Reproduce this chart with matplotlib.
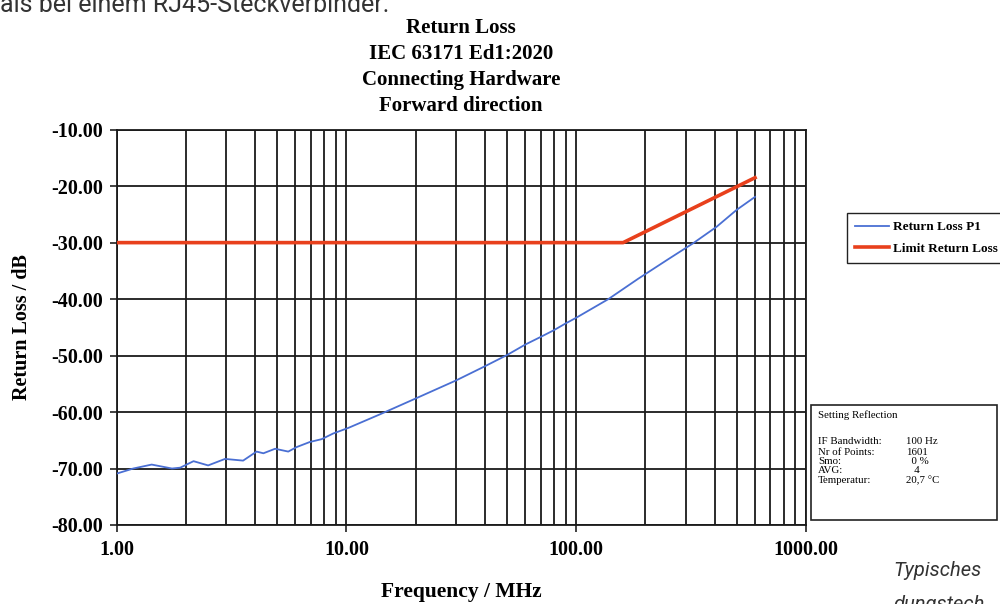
import matplotlib
matplotlib.use('Agg')
import matplotlib.pyplot as plt
from matplotlib.ticker import FixedLocator, FormatStrFormatter, NullFormatter
from matplotlib.patches import Rectangle

# measured return loss, port 1
freq_mhz = [1.0, 1.18, 1.42, 1.74, 1.89, 2.16, 2.5, 2.96, 3.55, 4.06, 4.35, 4.89,
            5.58, 6.07, 6.93, 7.8, 8.75, 10.2, 14.0, 20.0, 30.0, 40.0, 50.0, 60.0,
            70.0, 80.0, 90.0, 100.0, 138.0, 186.0, 250.0, 323.0, 408.0, 499.0, 600.0]
rl_p1 = [-70.9, -70.0, -69.3, -70.0, -69.85, -68.7, -69.45, -68.3, -68.6, -67.0, -67.3, -66.5,
         -67.0, -66.2, -65.3, -64.8, -63.8, -62.8, -60.4, -57.6, -54.4, -51.9, -49.9, -48.05,
         -46.7, -45.5, -44.3, -43.3, -40.0, -36.4, -33.0, -30.1, -27.2, -24.2, -21.9]

# IEC 63171 limit line
limit_freq = [1.0, 160.0, 600.0]
limit_rl = [-30.0, -30.0, -18.5]

y_ticks = [-10, -20, -30, -40, -50, -60, -70, -80]
x_ticks = [1, 10, 100, 1000]

title_lines = ['Return Loss', 'IEC 63171 Ed1:2020', 'Connecting Hardware', 'Forward direction']

settings_labels = ['IF Bandwidth:', 'Nr of Points:', 'Smo:', 'AVG:', 'Temperatur:']
settings_values = ['100 Hz', '1601', '  0 %', '   4', '20,7 \u00b0C']

serif = ['Liberation Serif', 'DejaVu Serif']
grid_col = '#1a1a1a'

fig = plt.figure(figsize=(10, 6.04), dpi=100)
ax = fig.add_axes([0.1167, 0.1308, 0.6893, 0.6545])

ax.plot(freq_mhz, rl_p1, color='#4a6fd3', lw=1.3, label='Return Loss P1', zorder=3)
ax.plot(limit_freq, limit_rl, color='#e8401c', lw=2.6, label='Limit Return Loss', zorder=3)

ax.set_xscale('log')
ax.set_xlim(1, 1000)
ax.set_ylim(-80, -10)
ax.xaxis.set_major_locator(FixedLocator(x_ticks))
ax.xaxis.set_major_formatter(FormatStrFormatter('%.2f'))
ax.xaxis.set_minor_formatter(NullFormatter())
ax.yaxis.set_major_locator(FixedLocator(y_ticks))
ax.yaxis.set_major_formatter(FormatStrFormatter('%.2f'))

ax.grid(True, which='major', color=grid_col, lw=1.3)
ax.grid(True, which='minor', axis='x', color=grid_col, lw=1.3)
ax.tick_params(which='major', direction='out', length=5, width=1.3, color='#333333')
ax.tick_params(axis='y', pad=5)
ax.tick_params(axis='x', pad=6)
ax.tick_params(which='minor', length=0)
for side in ax.spines.values():
    side.set_color(grid_col)
    side.set_linewidth(1.3)

for lab in ax.get_xticklabels() + ax.get_yticklabels():
    lab.set_family(serif)
    lab.set_fontweight('bold')
    lab.set_fontsize(14.5)

ax.set_ylabel('Return Loss / dB', family=serif, fontweight='bold', fontsize=14.5, va='center')
ax.yaxis.set_label_coords(-0.138, 0.5)
ax.set_xlabel('Frequency / MHz', family=serif, fontweight='bold', fontsize=15.5, va='center')
ax.xaxis.set_label_coords(0.5, -0.17)

title_y = [0.953, 0.910, 0.867, 0.825]
for yy, line in zip(title_y, title_lines):
    fig.text(0.461, yy, line, ha='center', va='center', family=serif,
             fontweight='bold', fontsize=15)

# legend block, cut by the right edge of the page
fig.legend(loc='upper left', bbox_to_anchor=(0.8467, 0.6468), borderaxespad=0,
           prop={'family': serif, 'weight': 'bold', 'size': 9.5},
           frameon=True, fancybox=False, edgecolor='#222222', framealpha=1, borderpad=0.6,
           handlelength=2.6, handletextpad=0.3, labelspacing=0.7)

# measurement settings box
fig.patches.append(Rectangle((0.811, 0.139), 0.186, 0.19, transform=fig.transFigure,
                             fill=False, edgecolor='#222222', lw=1.2))
fig.text(0.818, 0.313, 'Setting Reflection', family=serif, fontsize=7.8, va='center')
row_y = [0.269, 0.251, 0.236, 0.221, 0.205]
for yy, lab, val in zip(row_y, settings_labels, settings_values):
    fig.text(0.818, yy, lab, family=serif, fontsize=7.8, va='center')
    fig.text(0.906, yy, val, family=serif, fontsize=7.8, va='center')

# surrounding page text
fig.text(0.0, 0.992, 'als bei einem RJ45-Steckverbinder.', family=['Roboto', 'DejaVu Sans'],
         fontsize=18, color='#333333', va='center')
fig.text(0.893, 0.056, 'Typisches', family=['Roboto', 'DejaVu Sans'], style='italic',
         fontsize=14.5, color='#333333', va='center')
fig.text(0.893, 0.0, 'dungstech', family=['Roboto', 'DejaVu Sans'], style='italic',
         fontsize=14.5, color='#333333', va='center')

fig.savefig('out.png', dpi=100)
